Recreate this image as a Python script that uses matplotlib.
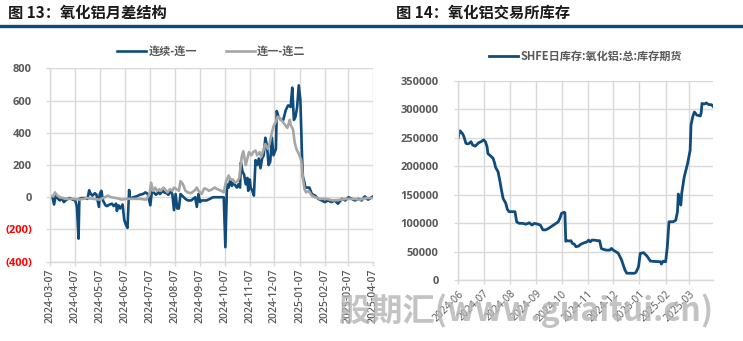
import matplotlib
matplotlib.use("Agg")
import matplotlib.pyplot as plt
import matplotlib.dates as mdates
import pandas as pd

plt.rcParams['font.family'] = ['Open Sans', 'Noto Sans CJK SC', 'DejaVu Sans']

# ---------------- data: alumina monthly spread structure ----------------
spread1_dates = [
    "2024-03-07", "2024-03-10", "2024-03-12", "2024-03-14", "2024-03-17", "2024-03-19", "2024-03-21",
    "2024-03-24", "2024-03-26", "2024-03-29", "2024-03-31", "2024-04-04", "2024-04-07", "2024-04-09",
    "2024-04-11", "2024-04-12", "2024-04-15", "2024-04-19", "2024-04-22", "2024-04-24", "2024-04-26",
    "2024-04-28", "2024-05-01", "2024-05-03", "2024-05-06", "2024-05-07", "2024-05-09", "2024-05-11",
    "2024-05-14", "2024-05-16", "2024-05-19", "2024-05-22", "2024-05-24", "2024-05-27", "2024-05-28",
    "2024-05-30", "2024-06-01", "2024-06-04", "2024-06-06", "2024-06-08", "2024-06-10", "2024-06-12",
    "2024-06-13", "2024-06-17", "2024-06-21", "2024-06-25", "2024-06-29", "2024-07-02", "2024-07-05",
    "2024-07-08", "2024-07-10", "2024-07-12", "2024-07-15", "2024-07-18", "2024-07-20", "2024-07-23",
    "2024-07-25", "2024-07-28", "2024-07-30", "2024-08-02", "2024-08-04", "2024-08-06", "2024-08-08",
    "2024-08-10", "2024-08-12", "2024-08-14", "2024-08-16", "2024-08-20", "2024-08-23", "2024-08-27",
    "2024-09-01", "2024-09-03", "2024-09-05", "2024-09-07", "2024-09-09", "2024-09-15", "2024-09-23",
    "2024-09-29", "2024-10-06", "2024-10-08", "2024-10-10", "2024-10-12", "2024-10-14", "2024-10-16",
    "2024-10-18", "2024-10-22", "2024-10-24", "2024-10-26", "2024-10-27", "2024-10-29", "2024-10-31",
    "2024-11-02", "2024-11-04", "2024-11-05", "2024-11-07", "2024-11-08", "2024-11-10", "2024-11-12",
    "2024-11-14", "2024-11-16", "2024-11-18", "2024-11-20", "2024-11-22", "2024-11-24", "2024-11-26",
    "2024-11-28", "2024-11-30", "2024-12-02", "2024-12-04", "2024-12-06", "2024-12-09", "2024-12-10",
    "2024-12-12", "2024-12-15", "2024-12-18", "2024-12-21", "2024-12-24", "2024-12-27", "2024-12-29",
    "2024-12-31", "2025-01-02", "2025-01-04", "2025-01-06", "2025-01-08", "2025-01-10", "2025-01-11",
    "2025-01-13", "2025-01-14", "2025-01-16", "2025-01-19", "2025-01-22", "2025-01-26", "2025-01-30",
    "2025-02-03", "2025-02-07", "2025-02-11", "2025-02-15", "2025-02-19", "2025-02-23", "2025-02-28",
    "2025-03-04", "2025-03-08", "2025-03-12", "2025-03-16", "2025-03-20", "2025-03-24", "2025-03-28",
    "2025-04-01", "2025-04-07",
]
spread1_values = [
    5, 0, -45, 10, -10, -20, -5,
    -30, -20, -10, -5, -15, -20, -60,
    -257, -10, -5, -5, -10, 43, 20,
    10, 25, 15, -60, 20, 40, -20,
    -50, -55, -45, -40, -55, -40, -85,
    -50, -70, -45, -140, -170, -190, 45,
    -10, 0, 5, 15, 20, 30, 20,
    -50, 40, 30, 15, 30, 20, 40,
    30, 25, 15, 35, 20, -80, 20,
    -70, -70, 20, 10, -10, -20, -20,
    0, -60, 20, -30, -20, -20, 0,
    0, 0, -310, 80, 60, 110, 70,
    90, 60, 80, 60, 215, 160, 140,
    80, 120, 40, 110, 60, 40, 10,
    230, 200, 240, 180, 240, 260, 369,
    320, 200, 220, 370, 260, 300, 535,
    500, 480, 480, 540, 570, 560, 680,
    480, 500, 560, 694, 600, 250, 130,
    90, 60, 60, 60, 20, 10, -10,
    -20, -30, -20, -30, -20, -40, -10,
    -20, 0, -10, -20, -10, -20, 5,
    -15, 5,
]

spread2_dates = [
    "2024-03-07", "2024-03-11", "2024-03-13", "2024-03-16", "2024-03-19", "2024-03-27", "2024-04-04",
    "2024-04-12", "2024-04-21", "2024-04-29", "2024-05-07", "2024-05-13", "2024-05-17", "2024-05-21",
    "2024-05-27", "2024-06-03", "2024-06-09", "2024-06-17", "2024-06-25", "2024-07-03", "2024-07-07",
    "2024-07-09", "2024-07-11", "2024-07-14", "2024-07-16", "2024-07-19", "2024-07-21", "2024-07-24",
    "2024-07-26", "2024-07-29", "2024-08-01", "2024-08-04", "2024-08-06", "2024-08-09", "2024-08-12",
    "2024-08-14", "2024-08-17", "2024-08-20", "2024-08-23", "2024-08-27", "2024-09-01", "2024-09-03",
    "2024-09-05", "2024-09-09", "2024-09-12", "2024-09-15", "2024-09-18", "2024-09-22", "2024-09-25",
    "2024-09-28", "2024-10-03", "2024-10-06", "2024-10-09", "2024-10-12", "2024-10-14", "2024-10-17",
    "2024-10-20", "2024-10-23", "2024-10-25", "2024-10-28", "2024-10-30", "2024-11-02", "2024-11-04",
    "2024-11-06", "2024-11-09", "2024-11-11", "2024-11-14", "2024-11-16", "2024-11-19", "2024-11-21",
    "2024-11-24", "2024-11-26", "2024-11-29", "2024-12-01", "2024-12-04", "2024-12-06", "2024-12-09",
    "2024-12-11", "2024-12-14", "2024-12-17", "2024-12-20", "2024-12-23", "2024-12-26", "2024-12-27",
    "2024-12-30", "2025-01-01", "2025-01-03", "2025-01-06", "2025-01-09", "2025-01-11", "2025-01-13",
    "2025-01-15", "2025-01-18", "2025-01-22", "2025-01-26", "2025-02-01", "2025-02-09", "2025-02-17",
    "2025-02-26", "2025-03-06", "2025-03-14", "2025-03-22", "2025-03-30", "2025-04-07",
]
spread2_values = [
    10, 5, 30, 10, 0, -10, -10,
    -15, -5, -10, -15, 0, 10, 0,
    -5, -15, -10, -10, -10, -15, 20,
    90, 40, 60, 40, 50, 40, 60,
    50, 30, 50, 40, 60, 50, 40,
    100, 80, 40, 30, 25, 45, 60,
    40, 20, 55, 50, 40, 50, 60,
    50, 40, 30, 100, 135, 110, 110,
    90, 100, 120, 250, 285, 200, 240,
    280, 260, 280, 290, 260, 280, 250,
    300, 330, 300, 330, 400, 440, 470,
    500, 490, 470, 450, 430, 480, 450,
    420, 340, 300, 270, 230, 120, 50,
    30, 40, 10, 0, -10, -10, -20,
    -15, -10, -10, -15, -5, -5,
]

# ---------------- data: SHFE alumina futures warehouse stock ----------------
stock_dates = [
    "2024-06-01", "2024-06-02", "2024-06-03", "2024-06-06", "2024-06-07", "2024-06-08", "2024-06-10",
    "2024-06-12", "2024-06-14", "2024-06-16", "2024-06-18", "2024-06-21", "2024-06-23", "2024-06-25",
    "2024-06-28", "2024-07-01", "2024-07-03", "2024-07-05", "2024-07-06", "2024-07-09", "2024-07-12",
    "2024-07-14", "2024-07-15", "2024-07-18", "2024-07-20", "2024-07-22", "2024-07-24", "2024-07-27",
    "2024-07-29", "2024-07-31", "2024-08-03", "2024-08-07", "2024-08-09", "2024-08-12", "2024-08-16",
    "2024-08-20", "2024-08-24", "2024-08-27", "2024-08-30", "2024-09-03", "2024-09-06", "2024-09-09",
    "2024-09-12", "2024-09-15", "2024-09-19", "2024-09-23", "2024-09-27", "2024-09-29", "2024-10-01",
    "2024-10-04", "2024-10-05", "2024-10-06", "2024-10-08", "2024-10-10", "2024-10-12", "2024-10-14",
    "2024-10-16", "2024-10-18", "2024-10-21", "2024-10-24", "2024-10-28", "2024-10-31", "2024-11-02",
    "2024-11-04", "2024-11-06", "2024-11-09", "2024-11-13", "2024-11-15", "2024-11-17", "2024-11-19",
    "2024-11-23", "2024-11-27", "2024-11-29", "2024-12-01", "2024-12-04", "2024-12-07", "2024-12-09",
    "2024-12-11", "2024-12-13", "2024-12-15", "2024-12-17", "2024-12-26", "2024-12-28", "2024-12-31",
    "2025-01-02", "2025-01-06", "2025-01-10", "2025-01-14", "2025-01-18", "2025-01-26", "2025-01-27",
    "2025-01-29", "2025-02-01", "2025-02-03", "2025-02-05", "2025-02-10", "2025-02-13", "2025-02-15",
    "2025-02-16", "2025-02-17", "2025-02-19", "2025-02-20", "2025-02-23", "2025-02-27", "2025-03-02",
    "2025-03-03", "2025-03-05", "2025-03-07", "2025-03-10", "2025-03-14", "2025-03-15", "2025-03-16",
    "2025-03-19", "2025-03-21", "2025-03-24", "2025-03-27", "2025-03-29",
]
stock_values = [
    250000, 258000, 262000, 257000, 254000, 250000, 240000,
    239000, 240000, 243000, 237000, 235000, 238000, 241000,
    243000, 246000, 243000, 234000, 222000, 218000, 214000,
    205000, 198000, 190000, 175000, 158000, 143000, 135000,
    124000, 120000, 120000, 120000, 102000, 99500, 99500,
    98000, 100500, 96500, 99500, 98000, 96500, 88000,
    88000, 90000, 94000, 98000, 102000, 108000, 117000,
    119000, 118000, 68000, 69000, 68500, 69000, 64000,
    63000, 58500, 59500, 63000, 65500, 67000, 70000,
    67000, 70000, 70000, 69000, 69000, 55500, 54000,
    52500, 52500, 55500, 52500, 50000, 47000, 41000,
    35000, 26000, 17500, 12000, 11700, 13500, 23400,
    46800, 47900, 42000, 33300, 32700, 32000, 28000,
    33000, 32000, 58000, 102300, 102300, 105000, 119800,
    151000, 140000, 131600, 152000, 181000, 204700, 228000,
    272000, 286600, 295000, 289500, 288000, 293500, 310000,
    309000, 311000, 308000, 308000, 305000,
]

left_ticks = ["2024-03-07", "2024-04-07", "2024-05-07", "2024-06-07", "2024-07-07", "2024-08-07",
              "2024-09-07", "2024-10-07", "2024-11-07", "2024-12-07", "2025-01-07", "2025-02-07",
              "2025-03-07", "2025-04-07"]
left_yticks = [-400, -200, 0, 200, 400, 600, 800]
right_ticks = ["2024-06-01", "2024-07-01", "2024-08-01", "2024-09-01", "2024-10-01", "2024-11-01",
               "2024-12-01", "2025-01-01", "2025-02-01", "2025-03-01"]
right_yticks = [0, 50000, 100000, 150000, 200000, 250000, 300000, 350000]

# ---------------- styling ----------------
BLUE = "#0F4C7C"
GRAY_LINE = "#A6A6A6"
GRID = "#D9D9D9"
TXT = "#595959"
CJK = ["Noto Sans CJK SC", "DejaVu Sans"]

fig = plt.figure(figsize=(7.43, 3.41), dpi=100)
fig.patch.set_facecolor("white")

# headings and rule
fig.text(8 / 743, 1 - 13 / 341, "图 13：氧化铝月差结构", fontsize=11, fontweight="bold",
         color="#1A1A1A", va="center", ha="left", family=CJK)
fig.text(396 / 743, 1 - 13 / 341, "图 14：氧化铝交易所库存", fontsize=11, fontweight="bold",
         color="#1A1A1A", va="center", ha="left", family=CJK)
fig.add_artist(plt.Line2D([0, 1], [1 - 26 / 341, 1 - 26 / 341], transform=fig.transFigure,
                          color="#0B4A7A", lw=2.4))


def style_axes(ax):
    for s in ["top", "right"]:
        ax.spines[s].set_visible(False)
    for s in ["left", "bottom"]:
        ax.spines[s].set_color(GRID)
        ax.spines[s].set_linewidth(1.0)
    ax.grid(True, color=GRID, lw=1.0)
    ax.set_axisbelow(True)
    ax.tick_params(axis="both", color=GRID, length=3, width=1.0)


# ---------------- left: spread structure ----------------
axl = fig.add_axes([50 / 743, 1 - 261.7 / 341, 323 / 743, (261.7 - 68.3) / 341])
style_axes(axl)
d1 = pd.to_datetime(spread1_dates)
d2 = pd.to_datetime(spread2_dates)
axl.plot(d1, spread1_values, color=BLUE, lw=1.9, label="连续-连一", solid_joinstyle="round")
axl.plot(d2, spread2_values, color=GRAY_LINE, lw=1.9, label="连一-连二", solid_joinstyle="round")
axl.set_xlim(pd.Timestamp(left_ticks[0]), pd.Timestamp(left_ticks[-1]))
axl.set_ylim(-400, 800)
axl.set_xticks(pd.to_datetime(left_ticks))
axl.set_xticklabels(left_ticks, rotation=90, fontsize=7.5, color=TXT, fontweight="semibold")
axl.set_yticks(left_yticks)
axl.set_yticklabels([f"({abs(v)})" if v < 0 else f"{v}" for v in left_yticks],
                    fontsize=8, fontweight="bold")
for lab, v in zip(axl.get_yticklabels(), left_yticks):
    lab.set_color("#FF0000" if v < 0 else TXT)
axl.tick_params(axis="y", pad=10)
axl.tick_params(axis="x", pad=2)
legl = axl.legend(loc="center", bbox_to_anchor=(0.5, 1.088), ncol=2, frameon=False,
                  handlelength=2.6, handletextpad=0.2, columnspacing=2.6,
                  prop={"family": CJK, "size": 8, "weight": "bold"})
for t in legl.get_texts():
    t.set_color(TXT)

# ---------------- right: exchange inventory ----------------
axr = fig.add_axes([458.3 / 743, 1 - 280 / 341, (713 - 458.3) / 743, (280 - 80.7) / 341])
style_axes(axr)
d3 = pd.to_datetime(stock_dates)
axr.plot(d3, stock_values, color=BLUE, lw=2.0, label="SHFE日库存:氧化铝:总:库存期货",
         solid_joinstyle="round")
axr.set_xlim(pd.Timestamp("2024-06-01"), pd.Timestamp("2025-03-29"))
axr.set_ylim(0, 350000)
axr.set_xticks(pd.to_datetime(right_ticks))
axr.xaxis.set_major_formatter(mdates.DateFormatter("%Y-%m"))
axr.set_yticks(right_yticks)
axr.set_yticklabels([f"{v}" for v in right_yticks], fontsize=8, fontweight="bold", color=TXT)
for lab in axr.get_xticklabels():
    lab.set_rotation(45)
    lab.set_ha("right")
    lab.set_va("top")
    lab.set_rotation_mode("anchor")
    lab.set_fontsize(7.5)
    lab.set_color(TXT)
axr.tick_params(axis="y", pad=11)
axr.tick_params(axis="x", pad=3)
legr = axr.legend(loc="center", bbox_to_anchor=(0.5, 1.12), ncol=1, frameon=False,
                  handlelength=2.6, handletextpad=0.2,
                  prop={"family": CJK, "size": 8, "weight": "bold"})
for t in legr.get_texts():
    t.set_color(TXT)

# site mark
fig.text(338 / 743, 1 - 311 / 341, "股期汇(www.guaitui.cn)", fontsize=23.2, fontweight="bold",
         fontstyle="italic", color="#B4B4B4", alpha=0.8, ha="left", va="center",
         family=CJK)

fig.savefig("out.png", dpi=100, facecolor="white")
